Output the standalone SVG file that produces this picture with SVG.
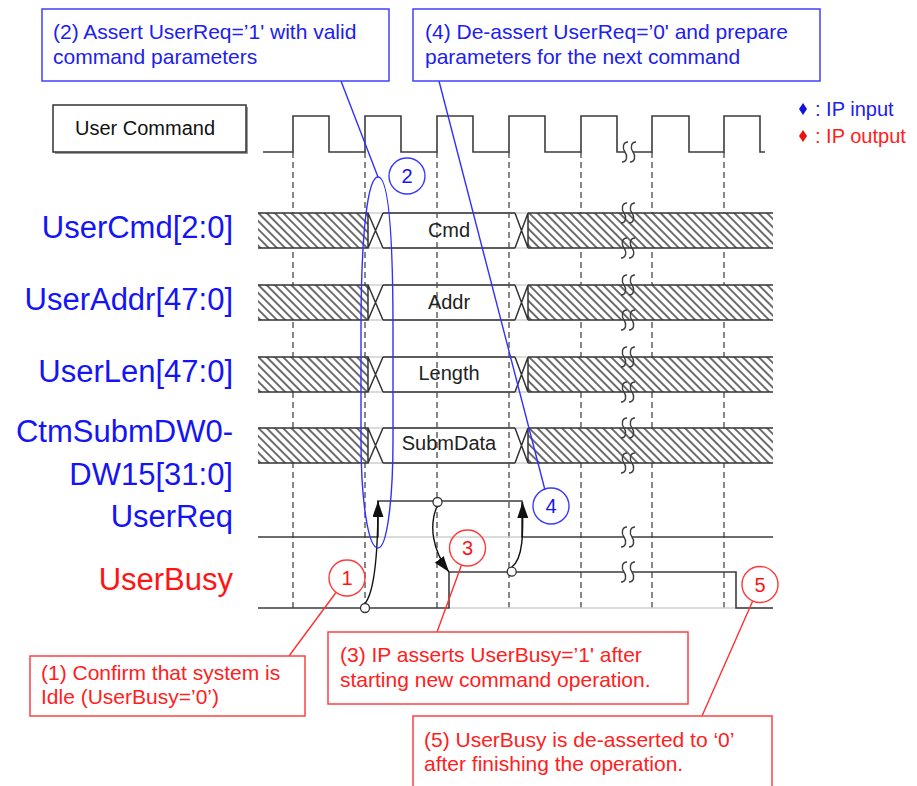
<svg xmlns="http://www.w3.org/2000/svg" xmlns:xlink="http://www.w3.org/1999/xlink" width="917" height="786" viewBox="0 0 917 786">
  <style>
    text { font-family: "Liberation Sans", Arial, sans-serif; }
    .wave { fill: none; stroke: #3c3c3c; stroke-width: 1.6; }
    .dash { stroke: #555; stroke-width: 1.4; stroke-dasharray: 6 4; }
    .bus { fill: none; stroke: #333; stroke-width: 1.5; }
    .ghost { fill: none; stroke: #cfcfcf; stroke-width: 1.5; }
    .brk { fill: none; stroke: #3c3c3c; stroke-width: 1.4; }
    .lbl { font-size: 31px; text-anchor: end; }
    .in { fill: #1414f5; }
    .out { fill: #ff1414; }
    .val { font-size: 20px; fill: #222; text-anchor: middle; }
    .boxB { fill: #fff; stroke: #4040ff; stroke-width: 1.5; }
    .boxR { fill: #fff; stroke: #ff4040; stroke-width: 1.5; }
    .txtB { font-size: 21px; fill: #2020f0; }
    .txtR { font-size: 21px; fill: #ff2020; }
    .leadB { stroke: #3030ff; stroke-width: 1.4; fill: none; }
    .leadR { stroke: #ff3030; stroke-width: 1.4; fill: none; }
    .numB { fill: none; stroke: #3a3aff; stroke-width: 1.4; }
    .numR { fill: none; stroke: #ff3a3a; stroke-width: 1.4; }
    .numT { font-size: 20px; text-anchor: middle; }
    .mark { fill: #fff; stroke: #333; stroke-width: 1.3; }
    .arrow { fill: none; stroke: #111; stroke-width: 1.4; }
  </style>
  <defs>
    <pattern id="hatch" patternUnits="userSpaceOnUse" width="5.8" height="5.8" patternTransform="rotate(-45)">
      <rect width="5.8" height="5.8" fill="#fff"/>
      <line x1="2.9" y1="0" x2="2.9" y2="5.8" stroke="#222" stroke-width="1.3"/>
    </pattern>
    <marker id="ah" markerUnits="userSpaceOnUse" markerWidth="17" markerHeight="12" refX="16" refY="5.5" orient="auto">
      <path d="M0,0 L16,5.5 L0,11 Z" fill="#111"/>
    </marker>
    <!-- one S-stroke of a time-break symbol -->
    <path id="s" d="M3,-10 C-2,-10 -3,-4 0,0 C3,4 2,10 -3,10"/>
    <!-- break symbol on a single line (line interrupted) -->
    <g id="brkLine">
      <rect x="-4" y="-2" width="8" height="4" fill="#fff"/>
      <use xlink:href="#s" href="#s" x="-4" class="brk"/>
      <use xlink:href="#s" href="#s" x="4" class="brk"/>
    </g>
    <!-- break symbol on a bus edge -->
    <g id="brkEdge">
      <use xlink:href="#s" href="#s" x="-4" class="brk"/>
      <use xlink:href="#s" href="#s" x="4" class="brk"/>
    </g>
    <!-- bus waveform: invalid / valid window / invalid, row height 35 -->
    <g id="busRow">
      <rect x="258" y="0" width="110" height="35" fill="url(#hatch)"/>
      <rect x="528" y="0" width="245" height="35" fill="url(#hatch)"/>
      <path class="ghost" d="M368,0 H528 M368,35 H528"/>
      <path class="bus" d="M258,0 H368 V35 H258 M368,0 L383,35 M368,35 L383,0 M383,0 H515 M383,35 H515 M515,0 L528,35 M515,35 L528,0 M528,0 V35 M528,0 H773 M528,35 H773"/>
      <use xlink:href="#brkEdge" href="#brkEdge" x="628" y="0"/>
      <use xlink:href="#brkEdge" href="#brkEdge" x="628" y="35"/>
    </g>
  </defs>

  <rect width="917" height="786" fill="#fff"/>

  <!-- clock edge reference lines -->
  <g id="grid">
    <line class="dash" x1="293" y1="152" x2="293" y2="608"/>
    <line class="dash" x1="365" y1="152" x2="365" y2="608"/>
    <line class="dash" x1="437" y1="152" x2="437" y2="608"/>
    <line class="dash" x1="509" y1="152" x2="509" y2="608"/>
    <line class="dash" x1="581" y1="152" x2="581" y2="608"/>
    <line class="dash" x1="652" y1="152" x2="652" y2="608"/>
    <line class="dash" x1="724" y1="152" x2="724" y2="608"/>
  </g>

  <!-- signal names -->
  <g id="user-command">
    <rect x="55" y="107" width="193" height="47" fill="#9a9a9a"/>
    <rect x="53" y="105" width="193" height="47" fill="#fff" stroke="#333" stroke-width="1.5"/>
    <text x="75" y="135" font-size="20" fill="#111">User Command</text>
  </g>
  <g id="labels">
    <text class="lbl in" x="233" y="238">UserCmd[2:0]</text>
    <text class="lbl in" x="233" y="310">UserAddr[47:0]</text>
    <text class="lbl in" x="233" y="382">UserLen[47:0]</text>
    <text class="lbl in" x="233" y="442">CtmSubmDW0-</text>
    <text class="lbl in" x="233" y="485">DW15[31:0]</text>
    <text class="lbl in" x="233" y="527">UserReq</text>
    <text class="lbl out" x="233" y="590">UserBusy</text>
  </g>

  <!-- legend -->
  <g id="legend">
    <path d="M803,103 L807,109 L803,115 L799,109 Z" fill="#1010e0"/>
    <text x="815" y="116" font-size="20" fill="#2020f0">: IP input</text>
    <path d="M803,130 L807,136 L803,142 L799,136 Z" fill="#ee1010"/>
    <text x="815" y="143" font-size="20" fill="#ff2020">: IP output</text>
  </g>

  <!-- clock -->
  <g id="clock">
    <path class="wave" d="M263,152 H293 V116 H329 V152 H365 V116 H401 V152 H437 V116 H473 V152 H509 V116 H545 V152 H581 V116 H617 V152 H652 V116 H689 V152 H724 V116 H760 V152 H765"/>
    <use xlink:href="#brkLine" href="#brkLine" x="629" y="152"/>
  </g>

  <!-- buses -->
  <g id="bus-cmd">
    <use xlink:href="#busRow" href="#busRow" y="213"/>
    <text class="val" x="449" y="237">Cmd</text>
  </g>
  <g id="bus-addr">
    <use xlink:href="#busRow" href="#busRow" y="285"/>
    <text class="val" x="449" y="309">Addr</text>
  </g>
  <g id="bus-len">
    <use xlink:href="#busRow" href="#busRow" y="357"/>
    <text class="val" x="449" y="380">Length</text>
  </g>
  <g id="bus-subm">
    <use xlink:href="#busRow" href="#busRow" y="428"/>
    <text class="val" x="449" y="450">SubmData</text>
  </g>

  <!-- UserReq -->
  <g id="user-req">
    <path class="ghost" d="M378,537 H522"/>
    <path class="wave" d="M258,537 H378 V501 H522 V537 H773"/>
    <use xlink:href="#brkLine" href="#brkLine" x="628" y="537"/>
  </g>

  <!-- UserBusy -->
  <g id="user-busy">
    <path class="ghost" d="M449,608 H773"/>
    <path class="wave" d="M258,608 H449 V572 H736 V608 H773"/>
    <use xlink:href="#brkLine" href="#brkLine" x="628" y="572"/>
  </g>

  <!-- causality arrows -->
  <g id="connectors">
    <path class="arrow" d="M365,603.5 C376,590 378,540 378,501" marker-end="url(#ah)"/>
    <path class="arrow" d="M437,506.5 C429,525 432,550 449,572" marker-end="url(#ah)"/>
    <path class="arrow" d="M511.7,567.2 C524,558 523,530 522.5,502" marker-end="url(#ah)"/>
    <circle class="mark" cx="365" cy="608" r="4.5"/>
    <circle class="mark" cx="437.5" cy="502" r="4.5"/>
    <circle class="mark" cx="511.7" cy="571.7" r="4.5"/>

    <!-- highlight loop around the request window -->
    <path class="leadB" d="M378,177 C368,177 361,230 361,330 L361,440 C361,500 368,548 378,548 C387,548 393,500 393,440 L393,330 C393,230 388,177 378,177 Z"/>
    <line class="leadB" x1="341" y1="81" x2="378" y2="177"/>
    <line class="leadB" x1="439" y1="81" x2="545" y2="490"/>
    <line class="leadR" x1="336" y1="592.5" x2="289" y2="656"/>
    <line class="leadR" x1="461.5" y1="565" x2="437" y2="632"/>
    <line class="leadR" x1="752.7" y1="601" x2="702" y2="716"/>
  </g>

  <!-- numbered markers -->
  <g id="num1"><circle class="numR" cx="347" cy="578" r="18"/><text class="numT out" x="347" y="585">1</text></g>
  <g id="num2"><circle class="numB" cx="407" cy="176" r="18"/><text class="numT in" x="407" y="183">2</text></g>
  <g id="num3"><circle class="numR" cx="467.5" cy="548" r="18"/><text class="numT out" x="467.5" y="555">3</text></g>
  <g id="num4"><circle class="numB" cx="551" cy="506" r="18"/><text class="numT in" x="551" y="513">4</text></g>
  <g id="num5"><circle class="numR" cx="760" cy="584.5" r="18"/><text class="numT out" x="760" y="591.5">5</text></g>

  <!-- callouts -->
  <g id="note2">
    <rect class="boxB" x="42" y="9" width="347" height="72"/>
    <text class="txtB" x="53" y="39">(2) Assert UserReq=’1' with valid</text>
    <text class="txtB" x="53" y="64">command parameters</text>
  </g>
  <g id="note4">
    <rect class="boxB" x="413" y="9" width="407" height="72"/>
    <text class="txtB" x="425" y="39">(4) De-assert UserReq=’0' and prepare</text>
    <text class="txtB" x="425" y="64">parameters for the next command</text>
  </g>
  <g id="note1">
    <rect class="boxR" x="30" y="656" width="275" height="60"/>
    <text class="txtR" x="41" y="680">(1) Confirm that system is</text>
    <text class="txtR" x="41" y="704">Idle (UserBusy=’0’)</text>
  </g>
  <g id="note3">
    <rect class="boxR" x="328" y="632" width="360" height="72"/>
    <text class="txtR" x="340" y="662">(3) IP asserts UserBusy=’1' after</text>
    <text class="txtR" x="340" y="687">starting new command operation.</text>
  </g>
  <g id="note5">
    <rect class="boxR" x="413" y="716" width="359" height="90"/>
    <text class="txtR" x="424" y="747">(5) UserBusy is de-asserted to ‘0’</text>
    <text class="txtR" x="424" y="771">after finishing the operation.</text>
  </g>
</svg>
